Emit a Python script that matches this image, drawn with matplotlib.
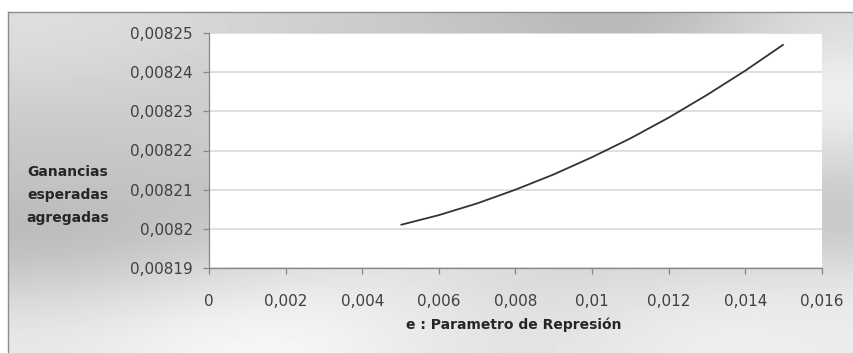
import numpy as np
import matplotlib
matplotlib.use("Agg")
import matplotlib.pyplot as plt
from matplotlib.lines import Line2D

# Parameter values and expected aggregate profits
e_values = [0.005, 0.006, 0.007, 0.008, 0.009, 0.010,
            0.011, 0.012, 0.013, 0.014, 0.015]
ganancias = [0.0082010, 0.0082035, 0.0082065, 0.0082100, 0.0082139, 0.0082183,
             0.0082231, 0.0082284, 0.0082342, 0.0082404, 0.0082471]

x_ticks = [0, 0.002, 0.004, 0.006, 0.008, 0.010, 0.012, 0.014, 0.016]
x_tick_labels = ["0", "0,002", "0,004", "0,006", "0,008", "0,01", "0,012", "0,014", "0,016"]
y_ticks = [0.00819, 0.00820, 0.00821, 0.00822, 0.00823, 0.00824, 0.00825]
y_tick_labels = ["0,00819", "0,0082", "0,00821", "0,00822", "0,00823", "0,00824", "0,00825"]

x_label = "e : Parametro de Represión"
y_label = "Ganancias\nesperadas\nagregadas"

W, H = 854, 353
fig = plt.figure(figsize=(W / 100, H / 100), dpi=100)
fig.patch.set_facecolor("white")

# Chrome-like silver gradient for the chart area
chrome = np.array([
    [222, 218, 212, 205, 198, 190, 178, 196, 220],
    [212, 208, 205, 205, 205, 205, 215, 230, 245],
    [200, 202, 205, 210, 215, 220, 225, 228, 230],
    [196, 195, 194, 200, 210, 215, 212, 208, 205],
    [182, 190, 200, 212, 220, 215, 205, 198, 196],
    [205, 215, 225, 232, 228, 216, 220, 226, 230],
    [232, 240, 248, 244, 232, 226, 232, 240, 236],
], dtype=float)

bx0, by_top = 8, 12
bg = fig.add_axes([bx0 / W, 0, 1 - bx0 / W, (H - by_top) / H])
bg.imshow(chrome, cmap="gray", vmin=0, vmax=255, interpolation="bicubic",
          aspect="auto", extent=[0, 1, 0, 1])
bg.set_xlim(0, 1)
bg.set_ylim(0, 1)
bg.axis("off")

# Chart border (left and top edges)
border_col = "#8c8c8c"
fig.add_artist(Line2D([bx0 / W, bx0 / W], [0, 1 - by_top / H],
                      transform=fig.transFigure, color=border_col, lw=1.0))
fig.add_artist(Line2D([bx0 / W, 1], [1 - by_top / H, 1 - by_top / H],
                      transform=fig.transFigure, color=border_col, lw=1.0))

# Plot area
pl, pr, pt, pb = 209, 822, 33, 268
ax = fig.add_axes([pl / W, (H - pb) / H, (pr - pl) / W, (pb - pt) / H])
ax.set_facecolor("white")

ax.plot(e_values, ganancias, color="#333333", lw=1.3, solid_capstyle="butt")

ax.set_xlim(0, 0.016)
ax.set_ylim(0.00819, 0.00825)
ax.set_xticks(x_ticks)
ax.set_xticklabels(x_tick_labels)
ax.set_yticks(y_ticks)
ax.set_yticklabels(y_tick_labels)

ax.grid(axis="y", color="#d6d6d6", lw=1.1)
ax.set_axisbelow(True)

axis_col = "#868686"
for side in ("top", "right"):
    ax.spines[side].set_visible(False)
for side in ("left", "bottom"):
    ax.spines[side].set_color(axis_col)
    ax.spines[side].set_linewidth(0.9)

ax.tick_params(axis="both", direction="out", length=4.5, width=0.9,
               color=axis_col, labelcolor="#404040", labelsize=11)
ax.tick_params(axis="x", pad=14)
ax.tick_params(axis="y", pad=7)

fig.text(514 / W, 1 - 325 / H, x_label, ha="center", va="center",
         fontsize=10, fontweight="bold", color="#262626")
fig.text(68 / W, 1 - 195 / H, y_label, ha="center", va="center",
         fontsize=10, fontweight="bold", color="#262626", linespacing=1.85)

fig.savefig("out.png", dpi=100)
